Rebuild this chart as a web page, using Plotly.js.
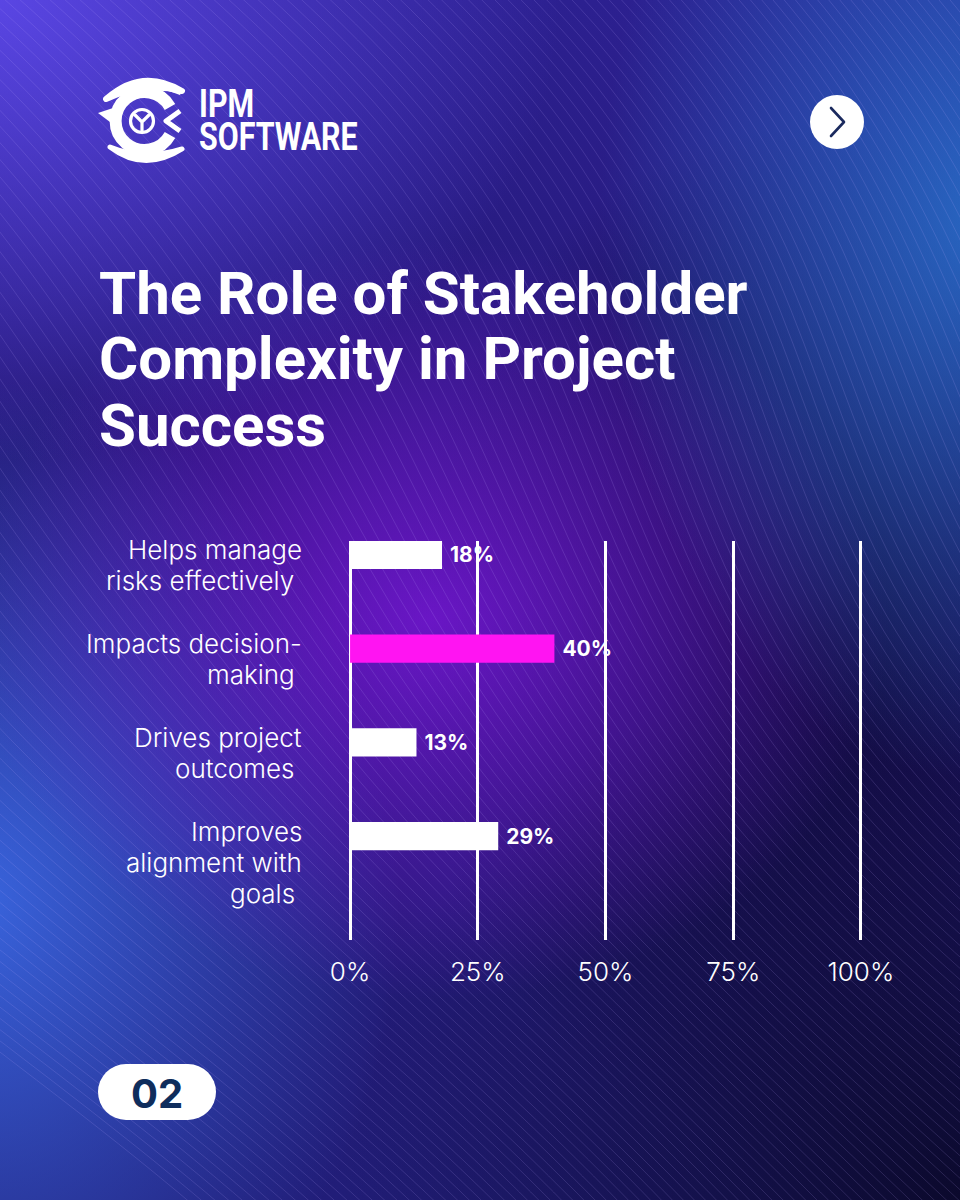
<!DOCTYPE html>
<html>
<head>
<meta charset="utf-8">
<script src="https://cdn.plot.ly/plotly-3.0.1.min.js"></script>
<style>
  html, body { margin:0; padding:0; width:960px; height:1200px; overflow:hidden; }
  #wrap { position:relative; width:960px; height:1200px; }
  #bg { position:absolute; left:0; top:0; width:960px; height:1200px;
    background:
      radial-gradient(ellipse 560px 460px at 0px 0px, rgba(92,72,232,0.95), rgba(92,72,232,0) 100%),
      radial-gradient(ellipse 380px 560px at 980px 220px, rgba(40,115,205,0.85), rgba(40,115,205,0) 100%),
      radial-gradient(ellipse 460px 380px at 430px 620px, rgba(118,22,212,0.85), rgba(118,22,212,0) 100%),
      radial-gradient(ellipse 420px 520px at -20px 900px, rgba(58,104,226,0.95), rgba(58,104,226,0) 100%),
      radial-gradient(ellipse 620px 560px at 960px 1200px, rgba(10,8,40,0.95), rgba(10,8,40,0) 100%),
      radial-gradient(ellipse 420px 520px at 820px 640px, rgba(16,10,60,0.9), rgba(16,10,60,0) 100%),
      linear-gradient(180deg, #2c2090 0%, #241672 45%, #211d78 100%);
  }
  #waves { position:absolute; left:0; top:0; }
  #chart { position:absolute; left:0; top:0; width:960px; height:1200px; }
</style>
</head>
<body>
<div id="wrap">
  <div id="bg"></div>
  <svg id="waves" width="960" height="1200"></svg>
  <div id="chart"></div>
</div>
<script>
// ---- data ----
const categories = [
  "Helps manage<br>risks effectively\u00a0",
  "Impacts decision-<br>making\u00a0",
  "Drives project<br>outcomes\u00a0",
  "Improves<br>alignment with<br>goals\u00a0"
];
const values = [18, 40, 13, 29];
const valueLabels = ["18%", "40%", "13%", "29%"];
const tickValues = [0, 25, 50, 75, 100];
const tickLabels = ["0%", "25%", "50%", "75%", "100%"];
const titleLines = ["The Role of Stakeholder", "Complexity in Project", "Success"];
const highlightIndex = 1;

// ---- decorative wave lines (background only) ----
(function(){
  const svg = document.getElementById('waves');
  const ns = 'http://www.w3.org/2000/svg';
  for (let i = -70; i < 80; i++) {
    const c = i * 13;
    let d = '';
    for (let y = -40; y <= 1240; y += 16) {
      const x = c + y * 0.85 + 70 * Math.sin(y / 210 + 1.2) + 40 * Math.sin((c + y) / 260);
      d += (y === -40 ? 'M' : 'L') + x.toFixed(1) + ' ' + y;
    }
    const p = document.createElementNS(ns, 'path');
    p.setAttribute('d', d);
    p.setAttribute('fill', 'none');
    p.setAttribute('stroke', 'rgba(190,170,255,0.16)');
    p.setAttribute('stroke-width', '1');
    svg.appendChild(p);
  }
})();

// ---- geometry helpers (pixel -> paper) ----
const L = 347, R = 96, T = 541, B = 260;
const W = 960 - L - R, H = 1200 - T - B;
const px = x => (x - L) / W;
const py = y => (T + H - y) / H;

const svgUri = s => 'data:image/svg+xml;charset=utf-8,' + encodeURIComponent(s);

const logoSvg = '<svg xmlns="http://www.w3.org/2000/svg" viewBox="0 0 90 90" width="90" height="90">' +
  '<path d="M8 22 Q44 -10 84 14 L82 18 Q44 2 8 22Z" fill="#fff"/>' +
  '<path d="M8 22 Q44 -10 84 14 Q46 4 8 22Z" fill="#fff" stroke="#fff" stroke-width="6" stroke-linejoin="round"/>' +
  '<path d="M12 70 Q46 96 84 72 Q46 84 12 70Z" fill="#fff" stroke="#fff" stroke-width="5" stroke-linejoin="round"/>' +
  '<path d="M0 36 L18 30 L16 48 Z" fill="#fff"/>' +
  '<path d="M72 30 A29 29 0 1 0 72 58" fill="none" stroke="#fff" stroke-width="12"/>' +
  '<path d="M82 34 L68 44 L82 54" fill="none" stroke="#fff" stroke-width="5" stroke-linejoin="round"/>' +
  '<circle cx="44" cy="44" r="11.5" fill="none" stroke="#fff" stroke-width="3.2"/>' +
  '<path d="M37 38 L44 45 L51 38 M44 45 L44 55" fill="none" stroke="#fff" stroke-width="3.2" stroke-linecap="round"/>' +
  '</svg>';

const btnSvg = '<svg xmlns="http://www.w3.org/2000/svg" viewBox="0 0 56 56" width="56" height="56">' +
  '<circle cx="28" cy="28" r="27" fill="#fff"/>' +
  '<path d="M22 14 L35 28 L22 42" fill="none" stroke="#1b2a5e" stroke-width="2.6" stroke-linecap="round" stroke-linejoin="round"/>' +
  '</svg>';

const pillSvg = '<svg xmlns="http://www.w3.org/2000/svg" viewBox="0 0 118 56" width="118" height="56">' +
  '<rect x="0" y="0" width="118" height="56" rx="28" ry="28" fill="#fff"/></svg>';

const trace = {
  type: 'bar',
  orientation: 'h',
  y: categories.map((c, i) => i),
  x: values,
  width: 0.3,
  marker: { color: values.map((v, i) => i === highlightIndex ? '#ff14f2' : '#ffffff') },
  text: valueLabels.map(t => '\u00a0' + t),
  textposition: 'outside',
  cliponaxis: false,
  textfont: { family: 'Inter, "Open Sans", sans-serif', size: 21, color: '#ffffff', weight: 700 },
  hoverinfo: 'skip'
};

const labelFont = { family: 'Inter, "Open Sans", sans-serif', size: 26, color: '#ffffff', weight: 300 };
const annotations = [];
categories.forEach((c, i) => {
  c.split('<br>').forEach((line, k) => {
    annotations.push({
      xref: 'paper', yref: 'y', x: px(304), y: i,
      xanchor: 'right', yanchor: 'middle', align: 'right', yshift: 5 - 31 * k,
      text: line, showarrow: false, font: labelFont
    });
  });
});
const titleY = [293, 358, 425];
titleLines.forEach((t, i) => {
  annotations.push({
    xref: 'paper', yref: 'paper', x: px(97), y: py(titleY[i]),
    xanchor: 'left', yanchor: 'middle', text: '<b>' + t + '</b>', showarrow: false,
    font: { family: 'Roboto, "Liberation Sans", sans-serif', size: 60, color: '#ffffff' }
  });
});
const logoFont = { family: 'Roboto, "Liberation Sans", sans-serif', size: 38, color: '#ffffff' };
annotations.push({
  xref: 'paper', yref: 'paper', x: px(197), y: py(104), xanchor: 'left', yanchor: 'middle',
  text: '<b>IPM</b>', showarrow: false, font: logoFont, name: 'logo1'
});
annotations.push({
  xref: 'paper', yref: 'paper', x: px(197), y: py(137), xanchor: 'left', yanchor: 'middle',
  text: '<b>SOFTWARE</b>', showarrow: false, font: logoFont, name: 'logo2'
});
annotations.push({
  xref: 'paper', yref: 'paper', x: px(157), y: py(1093), xanchor: 'center', yanchor: 'middle',
  text: '<b>02</b>', showarrow: false,
  font: { family: 'Inter, "Open Sans", sans-serif', size: 40, color: '#0f2d5c' }
});

const layout = {
  width: 960, height: 1200, autosize: false,
  margin: { l: L, r: R, t: T, b: B, pad: 0 },
  paper_bgcolor: 'rgba(0,0,0,0)',
  plot_bgcolor: 'rgba(0,0,0,0)',
  showlegend: false,
  xaxis: {
    range: [-0.6, 100.6], autorange: false,
    tickvals: tickValues, ticktext: tickLabels,
    showgrid: true, gridcolor: '#ffffff', gridwidth: 3,
    zeroline: true, zerolinecolor: '#ffffff', zerolinewidth: 3,
    showline: false, ticks: '', ticklabelstandoff: 14,
    tickfont: { family: 'Inter, "Open Sans", sans-serif', size: 26, color: '#ffffff', weight: 300 },
    fixedrange: true
  },
  yaxis: {
    range: [4.109, -0.149], autorange: false,
    showgrid: false, zeroline: false, showline: false, showticklabels: false, ticks: '',
    fixedrange: true
  },
  annotations: annotations,
  images: [
    { source: svgUri(logoSvg), xref: 'paper', yref: 'paper', x: px(98), y: py(77), sizex: 90 / W, sizey: 90 / H, xanchor: 'left', yanchor: 'top', sizing: 'stretch', layer: 'above' },
    { source: svgUri(btnSvg), xref: 'paper', yref: 'paper', x: px(809), y: py(94), sizex: 56 / W, sizey: 56 / H, xanchor: 'left', yanchor: 'top', sizing: 'stretch', layer: 'above' },
    { source: svgUri(pillSvg), xref: 'paper', yref: 'paper', x: px(98), y: py(1064), sizex: 118 / W, sizey: 56 / H, xanchor: 'left', yanchor: 'top', sizing: 'stretch', layer: 'below' }
  ]
};

Plotly.newPlot('chart', [trace], layout, { displayModeBar: false, staticPlot: true }).then(gd => {
  // condense the logo wordmark horizontally (keeps it as real text)
  const sx = 0.8;
  gd.querySelectorAll('.annotation-text').forEach(t => {
    const s = t.textContent;
    if (s === 'IPM' || s === 'SOFTWARE') {
      const bb = t.getBBox();
      t.setAttribute('transform', 'matrix(' + sx + ',0,0,1,' + (bb.x * (1 - sx)) + ',0)');
    }
  });
});
</script>
</body>
</html>
